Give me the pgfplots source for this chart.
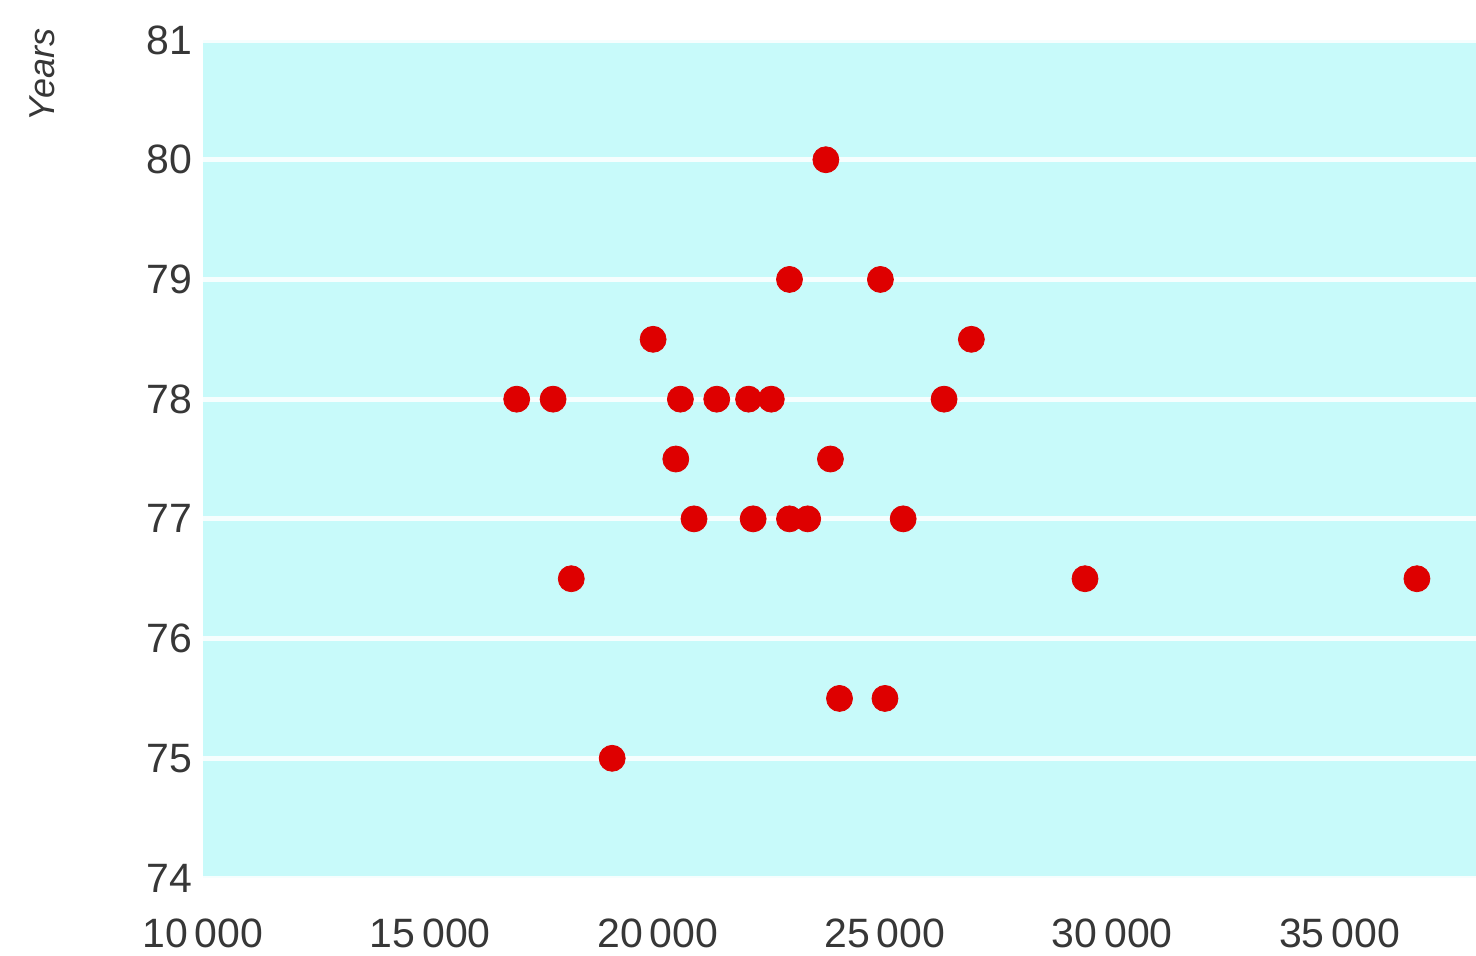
\documentclass[border=0pt]{standalone}
\usepackage{pgfplots}
\pgfplotsset{compat=1.18}
\usepackage{fontspec}
\setmainfont{Liberation Sans}
\definecolor{bgc}{RGB}{200,250,250}
\definecolor{dotc}{RGB}{222,0,0}
\definecolor{txt}{RGB}{55,55,55}
\begin{document}
\begin{tikzpicture}
\path[use as bounding box] (-101.5pt,-38.5pt) rectangle (636.5pt,439pt);
\begin{axis}[
  at={(0,0)}, anchor=south west,
  scale only axis, width=636.5pt, height=419pt,
  xmin=10000, xmax=38000, ymin=74, ymax=81,
  scaled ticks=false,
  axis background/.style={fill=bgc},
  axis line style={draw=none},
  major tick length=0pt,
  ytick={74,75,...,81},
  xtick={10000,15000,20000,25000,30000,35000},
  xticklabels={10\,000,15\,000,20\,000,25\,000,30\,000,35\,000},
  ymajorgrids, major grid style={white, line width=2.5pt, opacity=0.85},
  tick label style={font=\fontsize{20.5}{24}\selectfont, text=txt},
  yticklabel style={anchor=east, xshift=-2pt},
  xticklabel style={anchor=north, yshift=-17pt},
  /pgf/number format/assume math mode=true,
  clip=false,
]
\addplot[only marks, mark=*, mark size=6.5pt, color=dotc, mark options={fill=dotc, draw=dotc}] coordinates {
(23700,80) (22900,79) (24900,79) (19900,78.5) (26900,78.5)
(16900,78) (17700,78) (20500,78) (21300,78) (22000,78) (22500,78) (26300,78)
(20400,77.5) (23800,77.5)
(20800,77) (22100,77) (22900,77) (23300,77) (25400,77)
(18100,76.5) (29400,76.5) (36700,76.5)
(24000,75.5) (25000,75.5)
(19000,75)
};
\end{axis}
\node[rotate=90, text=txt, font=\fontsize{18}{22}\selectfont\itshape] at (-80.5pt,401.5pt) {Years};
\end{tikzpicture}
\end{document}
